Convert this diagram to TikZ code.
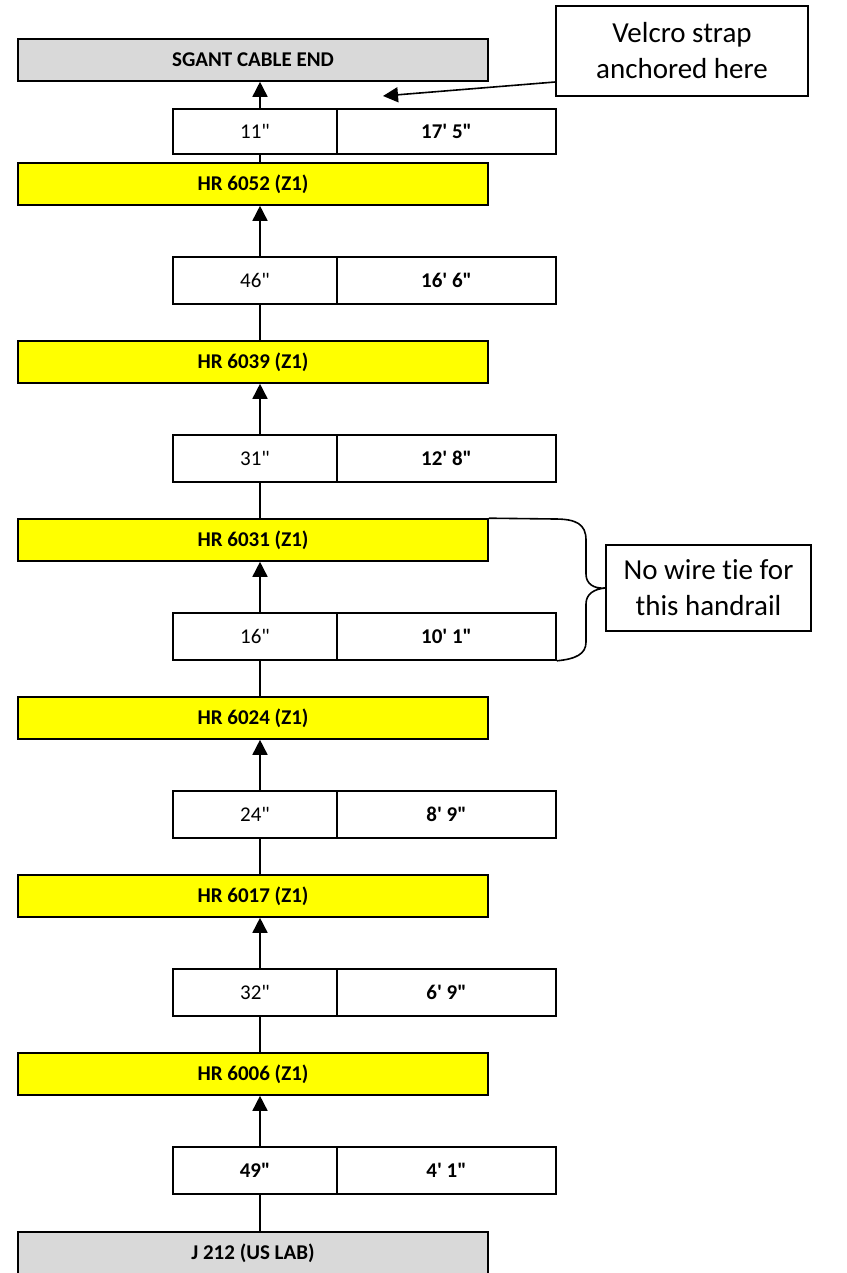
\documentclass[tikz,border=0pt]{standalone}
\usepackage{fontspec}
\setmainfont{Carlito}[Ligatures={TeXOff,NoCommon}]
\usetikzlibrary{arrows.meta}
\definecolor{hryellow}{HTML}{FFFF00}
\definecolor{endgray}{HTML}{D9D9D9}
\begin{document}
\begin{tikzpicture}[x=1pt,y=-1pt,
  box/.style={draw, line width=1.6pt, inner sep=0pt, font=\fontsize{21}{25}\selectfont},
  hrbox/.style={box, fill=hryellow, minimum width=470pt, minimum height=42pt, font=\fontsize{21}{25}\selectfont\bfseries},
  endbox/.style={hrbox, fill=endgray},
  lenl/.style={box, minimum width=164pt, minimum height=47pt},
  lenr/.style={box, minimum width=219pt, minimum height=47pt, font=\fontsize{21}{25}\selectfont\bfseries},
  note/.style={draw, line width=1.6pt, align=center, inner sep=0pt, font=\fontsize{29}{36}\selectfont},
  arr/.style={line width=1.6pt, -{Triangle[length=15pt,width=15pt]}},
  link/.style={line width=1.6pt}]
\useasboundingbox (0,0) rectangle (846,1273);
\coordinate (spine) at (260,0);
% end boxes and handrails
\node[endbox] (sgant) at (253,60) {SGANT CABLE END};
\node[hrbox] (hr6052) at (253,184) {HR 6052 (Z1)};
\node[hrbox] (hr6039) at (253,362) {HR 6039 (Z1)};
\node[hrbox] (hr6031) at (253,540) {HR 6031 (Z1)};
\node[hrbox] (hr6024) at (253,718) {HR 6024 (Z1)};
\node[hrbox] (hr6017) at (253,896) {HR 6017 (Z1)};
\node[hrbox] (hr6006) at (253,1074) {HR 6006 (Z1)};
\node[endbox] (j212) at (253,1253) {J 212 (US LAB)};
% length boxes
\node[lenl, minimum height=45pt] (l11) at (255,131.5) {11"};
\node[lenr, minimum height=45pt] (r11) at (446.5,131.5) {17' 5"};
\node[lenl] (l46) at (255,280.5) {46"};
\node[lenr] (r46) at (446.5,280.5) {16' 6"};
\node[lenl] (l31) at (255,458.5) {31"};
\node[lenr] (r31) at (446.5,458.5) {12' 8"};
\node[lenl] (l16) at (255,636.5) {16"};
\node[lenr] (r16) at (446.5,636.5) {10' 1"};
\node[lenl] (l24) at (255,814.5) {24"};
\node[lenr] (r24) at (446.5,814.5) {8' 9"};
\node[lenl] (l32) at (255,992.5) {32"};
\node[lenr] (r32) at (446.5,992.5) {6' 9"};
\node[lenl, font=\fontsize{21}{25}\selectfont\bfseries] (l49) at (255,1170.5) {49"};
\node[lenr] (r49) at (446.5,1170.5) {4' 1"};
% notes
\node[note, minimum width=252pt, minimum height=90pt] (velcro) at (682,51) {Velcro strap\\anchored here};
\node[note, minimum width=205pt, minimum height=86pt] (nowire) at (708.5,588) {No wire tie for\\this handrail};
\coordinate (anch) at (383,96);
% connectors
\draw[link] (j212.north -| spine) -- (l49.south -| spine);
\draw[arr] (l49.north -| spine) -- (hr6006.south -| spine);
\draw[link] (hr6006.north -| spine) -- (l32.south -| spine);
\draw[arr] (l32.north -| spine) -- (hr6017.south -| spine);
\draw[link] (hr6017.north -| spine) -- (l24.south -| spine);
\draw[arr] (l24.north -| spine) -- (hr6024.south -| spine);
\draw[link] (hr6024.north -| spine) -- (l16.south -| spine);
\draw[arr] (l16.north -| spine) -- (hr6031.south -| spine);
\draw[link] (hr6031.north -| spine) -- (l31.south -| spine);
\draw[arr] (l31.north -| spine) -- (hr6039.south -| spine);
\draw[link] (hr6039.north -| spine) -- (l46.south -| spine);
\draw[arr] (l46.north -| spine) -- (hr6052.south -| spine);
\draw[link] (hr6052.north -| spine) -- (l11.south -| spine);
\draw[arr] (l11.north -| spine) -- (sgant.south -| spine);
\draw[arr] ([yshift=-31pt]velcro.west) -- (anch);
% brace
\draw[link, line join=round] (hr6031.north east) -- (555,519)
  .. controls (576,519) and (586,524) .. (586,540) -- (586,574)
  .. controls (586,584) and (594,589) .. (nowire.west)
  .. controls (594,589) and (586,594) .. (586,604) -- (586,642)
  .. controls (586,654) and (576,659) .. (r16.south east);
\end{tikzpicture}
\end{document}
